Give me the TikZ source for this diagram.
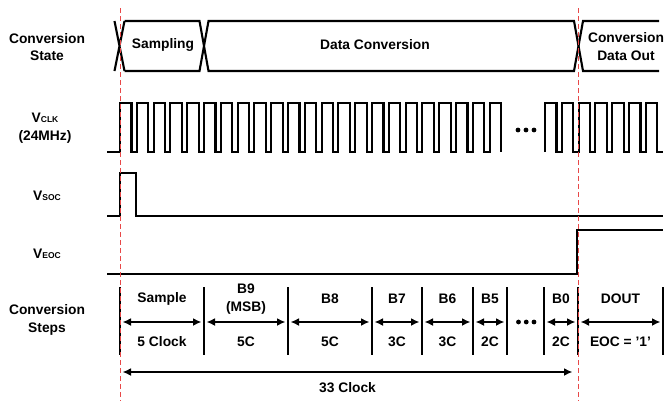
\documentclass[tikz,border=0pt]{standalone}
\usepackage{fontspec}
\setmainfont{Liberation Sans}
\usetikzlibrary{arrows.meta}
\definecolor{mark}{RGB}{232,72,72}

\begin{document}
\begin{tikzpicture}[x=1bp, y=-1bp, line width=2.1bp,
  lbl/.style={font=\bfseries\fontsize{13.8bp}{17.5bp}\selectfont, align=center, inner sep=0pt},
  wave/.style={line width=2.1bp, line join=miter},
  marker/.style={draw=mark, line width=1bp, dash pattern=on 5bp off 3bp},
  span/.style={{Latex[length=8.5bp,width=8bp]}-{Latex[length=8.5bp,width=8bp]}, line width=2bp, shorten <=2.5bp, shorten >=2.5bp}]

\useasboundingbox (0,0) rectangle (665,401);

% signal names
\node[lbl] (state) at (47,47)  {Conversion\\State};
\node[lbl] (clk)   at (45,128) {V{\fontsize{8.5bp}{9bp}\selectfont CLK}\\(24MHz)};
\node[lbl] (soc)   at (47,196) {V{\fontsize{8.5bp}{9bp}\selectfont SOC}};
\node[lbl] (eoc)   at (47,254) {V{\fontsize{8.5bp}{9bp}\selectfont EOC}};
\node[lbl] (steps) at (47,320) {Conversion\\Steps};

% conversion state bus
\draw[wave] (114.5,21) -- (124.5,71) (114.5,71) -- (124.5,21);
\draw[wave] (124.5,21) -- (199.5,21) -- (208.5,71) -- (574,71) -- (583,21) -- (659,21);
\draw[wave] (124.5,71) -- (199.5,71) -- (208.5,21) -- (574,21) -- (583,71) -- (659,71);
\node[lbl] (sampling) at (163,45)   {Sampling};
\node[lbl] (dataconv) at (375,45)   {Data Conversion};
\node[lbl] (dataout)  at (626,46.5) {Conversion\\Data Out};

% clock
\draw[wave] (107,152) \foreach \k in {0,...,22}{
  -- ({120+16.8*\k},152) -- ({120+16.8*\k},103) -- ({131.5+16.8*\k},103) -- ({131.5+16.8*\k},152)};
\draw[wave] (545,152) \foreach \k in {0,...,6}{
  -- ({545+16.8*\k},152) -- ({545+16.8*\k},103) -- ({556.5+16.8*\k},103) -- ({556.5+16.8*\k},152)} -- (663,152);
\foreach \d in {0,1,2} \fill (518+8*\d,130) circle (2.4bp);

% start / end of conversion
\draw[wave] (107,216) -- (120,216) -- (120,173) -- (136,173) -- (136,216) -- (663,216);
\draw[wave] (107,274) -- (577,274) -- (577,230) -- (663,230);

% conversion steps
\foreach \x [count=\i from 0] in {120,204,288,372,422,473,507,544,578,663}{
  \coordinate (s\i) at (\x,322);
  \draw (\x,287) -- (\x,355);
}
\foreach \a/\b/\up/\down in {0/1/Sample/5 Clock, 1/2/{B9\\(MSB)}/5C, 2/3/B8/5C, 3/4/B7/3C,
    4/5/B6/3C, 5/6/B5/2C, 7/8/B0/2C, 8/9/DOUT/{EOC = '1'}}
  \draw[span] (s\a) -- (s\b)
    node[lbl, midway, yshift=23bp] (top\a) {\up}
    node[lbl, midway, yshift=-20bp] (bot\a) {\down};
\foreach \d in {0,1,2} \fill (518.5+7.75*\d,322) circle (2.4bp);

\coordinate (t0) at (120,372);
\coordinate (t1) at (575,372);
\draw[span] (t0) -- (t1) node[lbl, midway, yshift=-16bp] (total) {33 Clock};

% sampling and end markers
\draw[marker] (120,8) -- (120,401);
\draw[marker] (578,8) -- (578,401);

\end{tikzpicture}
\end{document}
